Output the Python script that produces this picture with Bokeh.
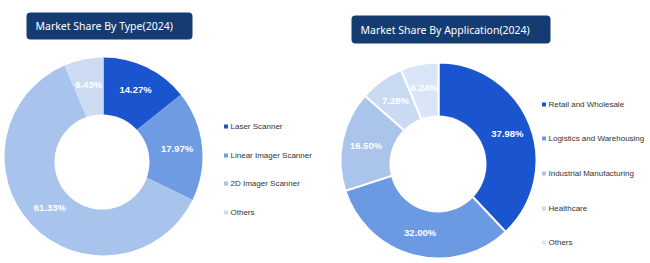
import numpy as np
from bokeh.plotting import figure
from bokeh.models import Range1d, BoxAnnotation, ColumnDataSource
from bokeh.core.properties import value
from bokeh.embed import file_html
from bokeh.resources import INLINE

# ---------------- data ----------------
type_title = "Market Share By Type(2024)"
type_labels = ["Laser Scanner", "Linear Imager Scanner", "2D Imager Scanner", "Others"]
type_values = [14.27, 17.97, 61.33, 6.43]
type_colors = ["#1a55cf", "#6e9be2", "#a9c4ec", "#cddcf3"]

app_title = "Market Share By Application(2024)"
app_labels = ["Retail and Wholesale", "Logistics and Warehousing",
              "Industrial Manufacturing", "Healthcare", "Others"]
app_values = [37.98, 32.00, 16.50, 7.28, 6.24]
app_colors = ["#1a55cf", "#6c9ae2", "#aac4eb", "#c9daf3", "#d9e6f8"]

W, H = 650, 263

p = figure(width=W, height=H, x_range=Range1d(0, W), y_range=Range1d(0, H),
           output_backend="svg", toolbar_location=None, min_border=0,
           x_axis_type=None, y_axis_type=None)
p.grid.visible = False
p.outline_line_color = None
p.background_fill_color = "white"
p.border_fill_color = "white"


def donut(cx, cy, r_out, hole, vals, colors, sep_color, sep_width):
    v = np.array(vals, dtype=float)
    frac = v / v.sum()
    cum_after = np.cumsum(frac)
    cum_before = cum_after - frac
    start = np.pi / 2 - 2 * np.pi * cum_before
    end = np.pi / 2 - 2 * np.pi * cum_after
    src = ColumnDataSource(dict(start=start, end=end, color=colors))
    p.wedge(x=cx, y=H - cy, radius=r_out, start_angle="start", end_angle="end",
            direction="clock", fill_color="color", line_color=sep_color,
            line_width=sep_width, source=src)
    hx, hy, hr = hole
    p.circle(x=hx, y=H - hy, radius=hr, fill_color="white", line_color=None)
    # labels at mid ring
    r_mid = 74
    mid = 2 * np.pi * (cum_before + frac / 2)
    lx = cx + r_mid * np.sin(mid)
    ly = (H - cy) + r_mid * np.cos(mid)
    txt = ["%.2f%%" % x for x in v]
    p.text(x=lx, y=ly, text=txt, text_color="white", text_font=value("Liberation Sans"),
           text_font_size="9.5px", text_font_style="bold", text_align="center",
           text_baseline="middle")


def legend(x0, ys, labels, colors):
    p.scatter(x=[x0] * len(labels), y=[H - y for y in ys], marker="square", size=4,
              fill_color=colors, line_color=None)
    p.text(x=[x0 + 4.5] * len(labels), y=[H - y for y in ys], text=labels,
           text_color="#333333", text_font=value("Liberation Sans"),
           text_font_size="8px", text_align="left", text_baseline="middle")


def title(l, r, t, b, tx, ty, text):
    p.add_layout(BoxAnnotation(left=l, right=r, top=H - t, bottom=H - b,
                               fill_color="#153c72", fill_alpha=1.0,
                               line_color=None, border_radius=4, level="underlay"))
    p.text(x=[tx], y=[H - ty], text=[text], text_color="white",
           text_font=value("Noto Sans"), text_font_size="10.5px",
           text_align="left", text_baseline="middle")


# left donut
donut(103, 156, 99, (101.5, 161.5, 47.5), type_values, type_colors, None, 0)
legend(225.5, [126, 155, 183, 212], type_labels, type_colors)
title(26, 192, 12, 39, 35, 25.5, type_title)

# right donut
donut(438, 160, 98, (437.5, 163.5, 48.5), app_values, app_colors, "white", 2)
legend(543.5, [104, 138, 173, 208, 242], app_labels, app_colors)
title(351, 550, 15, 43, 360, 29, app_title)

open("out.html", "w").write(file_html(p, INLINE))
